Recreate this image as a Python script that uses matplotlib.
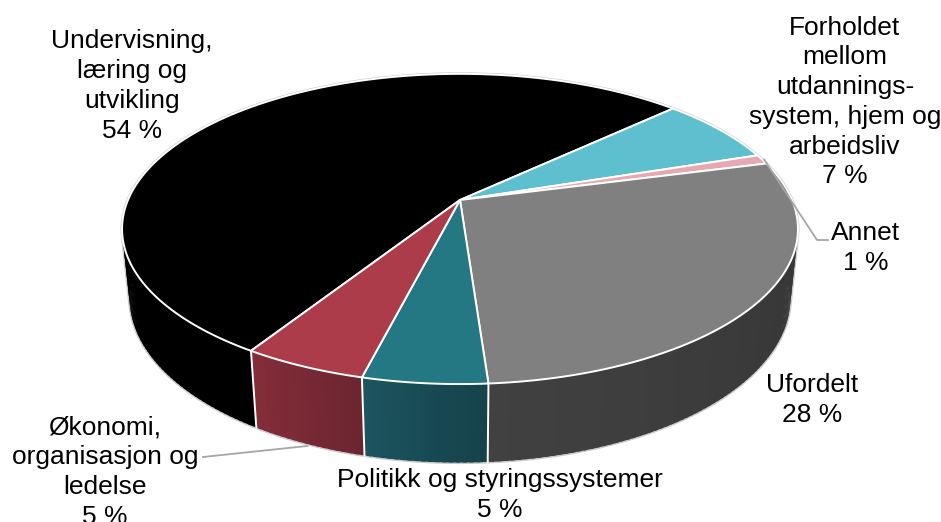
import numpy as np
import matplotlib.pyplot as plt
from matplotlib.patches import Polygon

plt.rcParams['font.family'] = ['Liberation Sans', 'DejaVu Sans']

# data (clockwise, starting at the Undervisning slice)
labels = ["Undervisning,\nlæring og\nutvikling",
          "Forholdet\nmellom\nutdannings-\nsystem, hjem og\narbeidsliv",
          "Annet",
          "Ufordelt",
          "Politikk og styringssystemer",
          "Økonomi,\norganisasjon og\nledelse"]
shares = [54, 7, 1, 28, 5, 5]

# styling
top_colors = ["#000000", "#5ebfcf", "#e4a9b1", "#808080", "#247883", "#ad3c4a"]
side_light = ["#000000", "#3f8f9c", "#b07c84", "#414141", "#1d5661", "#852e3a"]
side_dark = ["#000000", "#2f6f79", "#8c5f66", "#323232", "#15424a", "#6c2530"]
label_xy = [(132, 86), (845, 102), (866, 248), (812, 400), (500, 495), (105, 472)]

# pseudo 3d geometry, pixels
CX, CY, R = 460, 200, 332
ELEV = np.radians(26.8)
FOCAL = 4.78
H = 0.235
START = 212.0


def project(theta, w=0.0, r=1.0):
    th = np.radians(theta)
    u = r * np.sin(th)
    v = r * np.cos(th)
    y = v * np.sin(ELEV) + w * np.cos(ELEV)
    d = v * np.cos(ELEV) - w * np.sin(ELEV)
    s = FOCAL / (FOCAL + d)
    return CX + R * u * s, CY - R * y * s, d


def hex2rgb(c):
    c = c.lstrip('#')
    return np.array([int(c[i:i + 2], 16) / 255 for i in (0, 2, 4)])


fig = plt.figure(figsize=(9.41, 5.22), dpi=100)
ax = fig.add_axes([0, 0, 1, 1])
ax.set_xlim(0, 941)
ax.set_ylim(522, 0)
ax.axis('off')

# slice angles
bounds = START + np.concatenate([[0], np.cumsum(shares)]) * 3.6

# outline (hull of top and bottom rims) for the light grey silhouette
tt = np.linspace(0, 360, 721)
pts = [project(t)[:2] for t in tt] + [project(t, -H)[:2] for t in tt]
pts = sorted(set((round(p[0], 3), round(p[1], 3)) for p in pts))


def cross(o, a, b):
    return (a[0] - o[0]) * (b[1] - o[1]) - (a[1] - o[1]) * (b[0] - o[0])


lower, upper = [], []
for p in pts:
    while len(lower) >= 2 and cross(lower[-2], lower[-1], p) <= 0:
        lower.pop()
    lower.append(p)
for p in reversed(pts):
    while len(upper) >= 2 and cross(upper[-2], upper[-1], p) <= 0:
        upper.pop()
    upper.append(p)
hull = lower[:-1] + upper[:-1]
ax.add_patch(Polygon(hull, closed=True, facecolor='white', edgecolor='#c9c9c9', lw=2.2, zorder=1))

# walls, as thin quads sorted far to near (overlapping a little to hide seams)
# lighter toward the left end of each wall
quads = []
for i in range(len(shares)):
    a0, a1 = bounds[i], bounds[i + 1]
    n = max(2, int(np.ceil(a1 - a0)))
    edges = np.linspace(a0, a1, n + 1)
    c0, c1 = hex2rgb(side_dark[i]), hex2rgb(side_light[i])
    for k in range(n):
        t0, t1 = edges[k], min(edges[k + 1] + 0.6, a1)
        p0 = project(t0)
        p1 = project(t1)
        q1 = project(t1, -H)
        q0 = project(t0, -H)
        depth = (p0[2] + p1[2]) / 2
        frac = (k + 0.5) / n
        col = c0 * (1 - frac) + c1 * frac
        quads.append((depth, [p0[:2], p1[:2], q1[:2], q0[:2]], col))
quads.sort(key=lambda q: -q[0])
for depth, poly, col in quads:
    ax.add_patch(Polygon(poly, closed=True, facecolor=col, edgecolor='none', zorder=2))

# white lines between walls
for b in bounds[:-1]:
    top = project(b)
    bot = project(b, -H)
    ax.plot([top[0], bot[0]], [top[1], bot[1]], color='white', lw=1.4, zorder=3)

# top faces
for i in range(len(shares)):
    arc = np.linspace(bounds[i], bounds[i + 1], 200)
    poly = [(CX, CY)] + [project(t)[:2] for t in arc]
    ax.add_patch(Polygon(poly, closed=True, facecolor=top_colors[i], edgecolor='white',
                         lw=1.4, joinstyle='round', zorder=4))

# labels
for i in range(len(shares)):
    txt = "%s\n%d %%" % (labels[i], shares[i])
    ax.text(label_xy[i][0], label_xy[i][1], txt, ha='center', va='center',
            fontsize=19, color='black', linespacing=1.3, zorder=6)

# leader lines
mid = (bounds[2] + bounds[3]) / 2
p = project(mid)
lx, ly = label_xy[2]
ax.plot([p[0] + 2, lx - 49, lx - 38], [p[1], ly - 8, ly - 8], color='#a6a6a6', lw=1.3, zorder=5)
mid = (bounds[5] + bounds[6]) / 2
p = project(mid, -H)
lx, ly = label_xy[5]
ax.plot([p[0], lx + 98], [p[1] + 2, ly - 15], color='#a6a6a6', lw=1.3, zorder=5)

fig.savefig('out.png', dpi=100)
